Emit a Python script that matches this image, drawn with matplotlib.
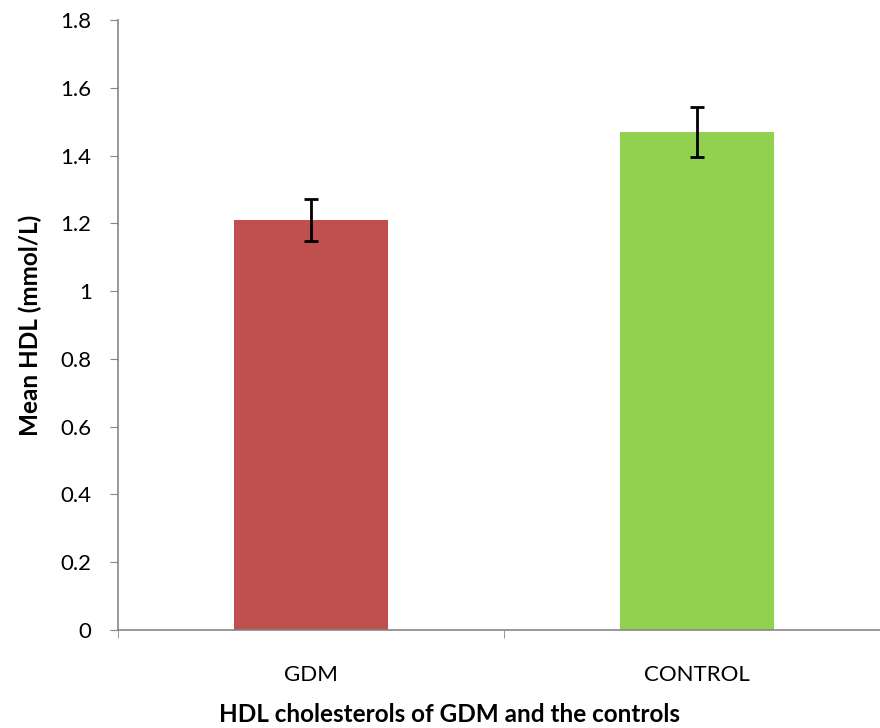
import numpy as np
import matplotlib.pyplot as plt

groups = ["GDM", "CONTROL"]
mean_hdl = [1.21, 1.47]
sd_err = [0.062, 0.074]
colors = ["#C0504D", "#92D050"]

plt.rcParams['font.family'] = ['Lato', 'DejaVu Sans']

fig = plt.figure(figsize=(8.8, 7.28), dpi=100)
ax = fig.add_axes([118/880, 98/728, 772/880, 610/728])

x = np.arange(len(groups))
ax.bar(x, mean_hdl, width=0.4, color=colors, zorder=2)
ax.errorbar(x, mean_hdl, yerr=sd_err, fmt='none', ecolor='black',
            elinewidth=2, capsize=5, capthick=2, zorder=3)

ax.set_xlim(-0.5, 1.5)
ax.set_ylim(0, 1.8)
ax.set_yticks(np.arange(0, 1.81, 0.2))
ax.set_yticklabels(["0", "0.2", "0.4", "0.6", "0.8", "1", "1.2", "1.4", "1.6", "1.8"])
ax.set_xticks(x)
ax.set_xticklabels(groups)
ax.set_xticks([-0.5, 0.5, 1.5], minor=True)

for s in ['top', 'right']:
    ax.spines[s].set_visible(False)
for s in ['left', 'bottom']:
    ax.spines[s].set_color('#868686')
    ax.spines[s].set_linewidth(1.2)

ax.tick_params(axis='y', direction='out', length=6, color='#868686', labelsize=16, pad=13)
ax.tick_params(axis='x', which='major', length=0, labelsize=16, pad=25)
ax.tick_params(axis='x', which='minor', direction='out', length=6, color='#868686')

ax.set_ylabel("Mean HDL (mmol/L)", fontsize=17.5, fontweight='bold')
ax.set_xlabel("HDL cholesterols of GDM and the controls", fontsize=17.5, fontweight='bold')
ax.yaxis.set_label_coords(-0.098, 0.5)
ax.xaxis.set_label_coords(0.429, -0.119)

fig.savefig("out.png", dpi=100)
